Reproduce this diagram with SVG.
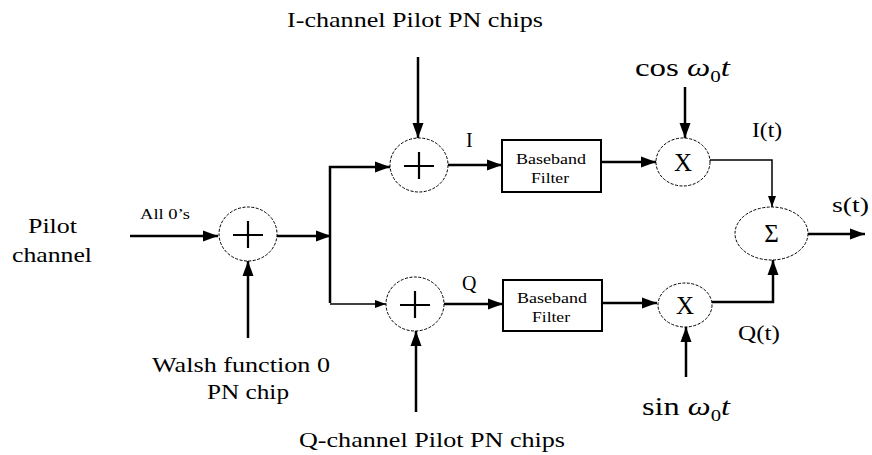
<svg xmlns="http://www.w3.org/2000/svg" width="872" height="455" viewBox="0 0 872 455">
<defs>
<marker id="big" markerUnits="userSpaceOnUse" markerWidth="15" markerHeight="12" refX="15" refY="6" orient="auto"><path d="M0,0.5 L15,6 L0,11.5 z" fill="#000"/></marker>
<marker id="small" markerUnits="userSpaceOnUse" markerWidth="11" markerHeight="9" refX="11" refY="4.5" orient="auto"><path d="M0,0.5 L11,4.5 L0,8.5 z" fill="#000"/></marker>
</defs>
<style>
.node{fill:#fff;stroke:#000;stroke-width:1;stroke-dasharray:3 1.5}
.box{fill:#fff;stroke:#000;stroke-width:2}
.plus{stroke:#000;stroke-width:2.2;fill:none}
.w{fill:none;stroke:#000;stroke-width:2.5}
.t{fill:none;stroke:#000;stroke-width:1.5}
text{font-family:'Liberation Serif',serif;fill:#000}
.big{font-size:22px}
.mid{font-size:20px}
.sm{font-size:15px}
.sym{font-size:25px}
</style>
<rect width="872" height="455" fill="#fff"/>
<g id="connectors">
<path class="w" d="M130 236 H218" marker-end="url(#big)"/>
<path class="w" d="M248 338 V261" marker-end="url(#big)"/>
<path class="w" d="M277 236 H331" marker-end="url(#big)"/>
<path class="w" d="M330 303 V167 H390" marker-end="url(#big)"/>
<path class="t" d="M330 304 H386" marker-end="url(#small)"/>
<path class="w" d="M418 57 V138" marker-end="url(#big)"/>
<path class="w" d="M416 412 V331" marker-end="url(#big)"/>
<path class="w" d="M448 165 H502" marker-end="url(#big)"/>
<path class="w" d="M444 304 H503" marker-end="url(#big)"/>
<path class="w" d="M600 162 H656" marker-end="url(#big)"/>
<path class="w" d="M602 303 H657" marker-end="url(#big)"/>
<path class="w" d="M685 87 V138" marker-end="url(#big)"/>
<path class="w" d="M686 377 V327" marker-end="url(#big)"/>
<path class="t" d="M710 160 H772 V207" marker-end="url(#small)"/>
<path class="w" d="M712 302 H773 V260" marker-end="url(#big)"/>
<path class="w" d="M808 234 H865" marker-end="url(#big)"/>
</g>
<g id="pilot-adder">
<ellipse class="node" cx="248" cy="234" rx="29" ry="27"/>
<path class="plus" d="M233 235 H263 M248 221 V248"/>
</g>
<g id="i-adder">
<ellipse class="node" cx="419" cy="165" rx="29" ry="27"/>
<path class="plus" d="M404 166 H434 M419 152 V179"/>
</g>
<g id="q-adder">
<ellipse class="node" cx="415" cy="304" rx="29" ry="27"/>
<path class="plus" d="M400 305 H430 M415 291 V318"/>
</g>
<g id="i-filter">
<rect class="box" x="502" y="140" width="99" height="52"/>
<text class="sm" x="516" y="164" textLength="70" lengthAdjust="spacingAndGlyphs">Baseband</text>
<text class="sm" x="531" y="183" textLength="38" lengthAdjust="spacingAndGlyphs">Filter</text>
</g>
<g id="q-filter">
<rect class="box" x="503" y="280" width="99" height="51"/>
<text class="sm" x="517" y="303" textLength="70" lengthAdjust="spacingAndGlyphs">Baseband</text>
<text class="sm" x="532" y="322" textLength="38" lengthAdjust="spacingAndGlyphs">Filter</text>
</g>
<g id="i-mixer">
<ellipse class="node" cx="683" cy="162" rx="27" ry="24"/>
<text class="sym" x="683" y="171" text-anchor="middle">X</text>
</g>
<g id="q-mixer">
<ellipse class="node" cx="685" cy="305" rx="27" ry="22"/>
<text class="sym" x="685" y="314" text-anchor="middle">X</text>
</g>
<g id="summer">
<ellipse class="node" cx="771.5" cy="233.5" rx="36.5" ry="26.5"/>
<text class="sym" x="771.5" y="242" text-anchor="middle">Σ</text>
</g>
<g id="labels">
<text class="big" x="28" y="233" textLength="49" lengthAdjust="spacingAndGlyphs">Pilot</text>
<text class="big" x="12" y="262" textLength="80" lengthAdjust="spacingAndGlyphs">channel</text>
<text class="sm" x="140" y="219" textLength="50" lengthAdjust="spacingAndGlyphs">All 0’s</text>
<text class="big" x="152" y="372" textLength="178" lengthAdjust="spacingAndGlyphs">Walsh function 0</text>
<text class="big" x="207" y="399" textLength="82" lengthAdjust="spacingAndGlyphs">PN chip</text>
<text class="big" x="287" y="27" textLength="256" lengthAdjust="spacingAndGlyphs">I-channel Pilot PN chips</text>
<text class="big" x="299" y="447" textLength="266" lengthAdjust="spacingAndGlyphs">Q-channel Pilot PN chips</text>
<text class="mid" x="466" y="147">I</text>
<text class="mid" x="462" y="290">Q</text>
<text class="sym" x="635" y="76" textLength="95" lengthAdjust="spacingAndGlyphs">cos <tspan font-style="italic">ω</tspan><tspan font-size="16" dy="6">0</tspan><tspan font-style="italic" dy="-6">t</tspan></text>
<text class="sym" x="642" y="415" textLength="88" lengthAdjust="spacingAndGlyphs">sin <tspan font-style="italic">ω</tspan><tspan font-size="16" dy="6">0</tspan><tspan font-style="italic" dy="-6">t</tspan></text>
<text class="mid" x="752" y="137" textLength="30" lengthAdjust="spacingAndGlyphs">I(t)</text>
<text class="mid" x="738" y="340" textLength="42" lengthAdjust="spacingAndGlyphs">Q(t)</text>
<text class="mid" x="832" y="212" textLength="37" lengthAdjust="spacingAndGlyphs">s(t)</text>
</g>
</svg>
